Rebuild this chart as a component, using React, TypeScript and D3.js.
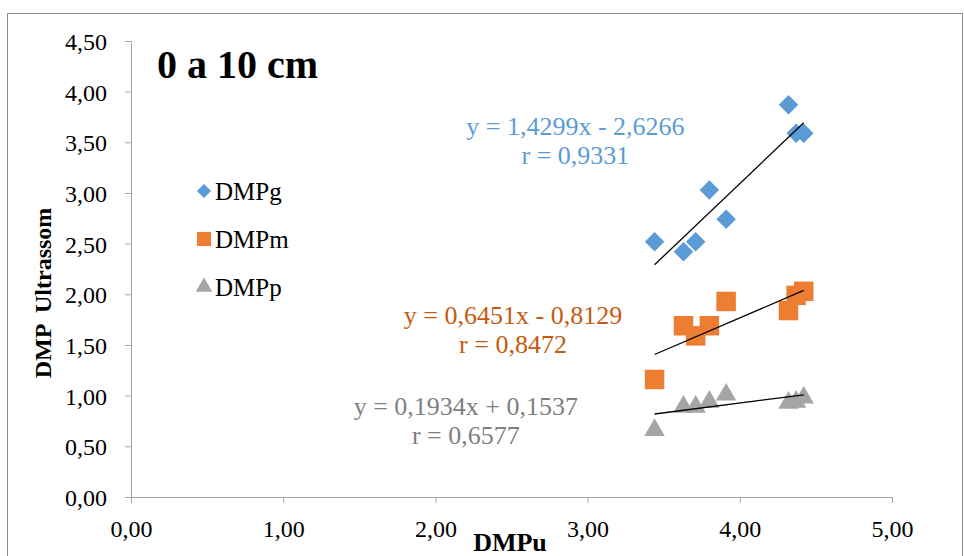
import { useRef, useEffect } from 'react';
import * as d3 from 'd3';

const dmpu = [3.44, 3.63, 3.71, 3.8, 3.91, 4.32, 4.37, 4.42];
const dmpg = [2.52, 2.42, 2.52, 3.03, 2.74, 3.87, 3.59, 3.59];
const dmpm = [1.16, 1.69, 1.59, 1.69, 1.93, 1.84, 1.99, 2.03];
const dmpp = [0.66, 0.89, 0.89, 0.94, 1.01, 0.93, 0.94, 0.98];

const seriesNames = ['DMPg', 'DMPm', 'DMPp'];
const seriesColors = ['#5b9bd5', '#ed7d31', '#a5a5a5'];
const labelColors = ['#5b9bd5', '#c55a11', '#7f7f7f'];
const slopes = [1.4299, 0.6451, 0.1934];
const intercepts = [-2.6266, -0.8129, 0.1537];
const eqLabels = ['y = 1,4299x - 2,6266', 'y = 0,6451x - 0,8129', 'y = 0,1934x + 0,1537'];
const rLabels = ['r = 0,9331', 'r = 0,8472', 'r = 0,6577'];
const labelPos = [[2.92, 3.57], [2.51, 1.71], [2.2, 0.81]];

const xTicks = [0, 1, 2, 3, 4, 5];
const yTicks = [0, 0.5, 1, 1.5, 2, 2.5, 3, 3.5, 4, 4.5];

const fmt = (v: number) => v.toFixed(2).replace('.', ',');

export default function App() {
  const svgRef = useRef<SVGSVGElement>(null);
  const width = 964;
  const height = 556;

  useEffect(() => {
    const svg = d3.select(svgRef.current);
    svg.selectAll('*').remove();
    const font = '"Liberation Serif", "Times New Roman", serif';

    const x = d3.scaleLinear().domain([0, 5]).range([131, 892]);
    const y = d3.scaleLinear().domain([0, 4.5]).range([497, 41]);

    svg
      .append('rect')
      .attr('x', 7.5)
      .attr('y', 13.5)
      .attr('width', 955)
      .attr('height', 560)
      .attr('fill', 'white')
      .attr('stroke', '#8c8c8c')
      .attr('stroke-width', 1);

    const axisColor = '#a6a6a6';

    const xAxis = svg
      .append('g')
      .attr('transform', `translate(0,${y(0)})`)
      .call(d3.axisBottom(x).tickValues(xTicks).tickFormat((d) => fmt(+d)).tickSizeOuter(0).tickSize(6));
    const yAxis = svg
      .append('g')
      .attr('transform', `translate(${x(0)},0)`)
      .call(d3.axisLeft(y).tickValues(yTicks).tickFormat((d) => fmt(+d)).tickSizeOuter(0).tickSize(6));

    [xAxis, yAxis].forEach((a) => {
      a.select('.domain').attr('stroke', axisColor);
      a.selectAll('line').attr('stroke', axisColor);
      a.selectAll('text').attr('fill', '#000').style('font-family', font).style('font-size', '24px');
    });
    xAxis.selectAll('text').attr('y', 40).attr('dy', 0);
    yAxis.selectAll('text').attr('x', -24).attr('dy', '0.35em');

    const ys = [dmpg, dmpm, dmpp];
    const symbols = [d3.symbolSquare, d3.symbolSquare, d3.symbolTriangle];
    const sizes = [190, 380, 180];
    const rotations = [45, 0, 0];

    ys.forEach((vals, s) => {
      const sym = d3.symbol().type(symbols[s]).size(sizes[s]);
      svg
        .append('g')
        .selectAll('path')
        .data(vals)
        .join('path')
        .attr('d', sym)
        .attr('transform', (d, i) => `translate(${x(dmpu[i])},${y(d)}) rotate(${rotations[s]})`)
        .attr('fill', seriesColors[s]);
    });

    // linear trend lines over the range of dmpu
    const xmin = d3.min(dmpu) as number;
    const xmax = d3.max(dmpu) as number;
    ys.forEach((vals, s) => {
      svg
        .append('line')
        .attr('x1', x(xmin))
        .attr('x2', x(xmax))
        .attr('y1', y(slopes[s] * xmin + intercepts[s]))
        .attr('y2', y(slopes[s] * xmax + intercepts[s]))
        .attr('stroke', '#000')
        .attr('stroke-width', 1.3);
    });

    labelPos.forEach(([lx, ly], s) => {
      const t = svg
        .append('text')
        .attr('x', x(lx))
        .attr('y', y(ly))
        .attr('text-anchor', 'middle')
        .attr('fill', labelColors[s])
        .style('font-family', font)
        .style('font-size', '26px');
      t.append('tspan').attr('x', x(lx)).attr('dy', 0).text(eqLabels[s]);
      t.append('tspan').attr('x', x(lx)).attr('dy', 29).text(rLabels[s]);
    });

    // legend
    const legend = svg.append('g');
    seriesNames.forEach((name, s) => {
      const ly = 191 + s * 48;
      const sym = d3.symbol().type(symbols[s]).size([100, 200, 120][s]);
      legend
        .append('path')
        .attr('d', sym)
        .attr('transform', `translate(204,${ly}) rotate(${rotations[s]})`)
        .attr('fill', seriesColors[s]);
      legend
        .append('text')
        .attr('x', 215)
        .attr('y', ly)
        .attr('dy', '0.35em')
        .style('font-family', font)
        .style('font-size', '25px')
        .text(name);
    });

    svg
      .append('text')
      .attr('x', 157)
      .attr('y', 78)
      .style('font-family', font)
      .style('font-size', '40px')
      .style('font-weight', 'bold')
      .text('0 a 10 cm');

    svg
      .append('text')
      .attr('transform', `translate(51,293) rotate(-90)`)
      .attr('text-anchor', 'middle')
      .style('font-family', font)
      .style('font-size', '24px')
      .style('font-weight', 'bold')
      .style('white-space', 'pre')
      .text('DMP  Ultrassom');

    svg
      .append('text')
      .attr('x', 510)
      .attr('y', 551)
      .attr('text-anchor', 'middle')
      .style('font-family', font)
      .style('font-size', '26px')
      .style('font-weight', 'bold')
      .text('DMPu');
  }, []);

  return (
    <div style={{ position: 'fixed', left: 0, top: 0 }}>
      <svg ref={svgRef} width={width} height={height} style={{ display: 'block' }}></svg>
    </div>
  );
}
